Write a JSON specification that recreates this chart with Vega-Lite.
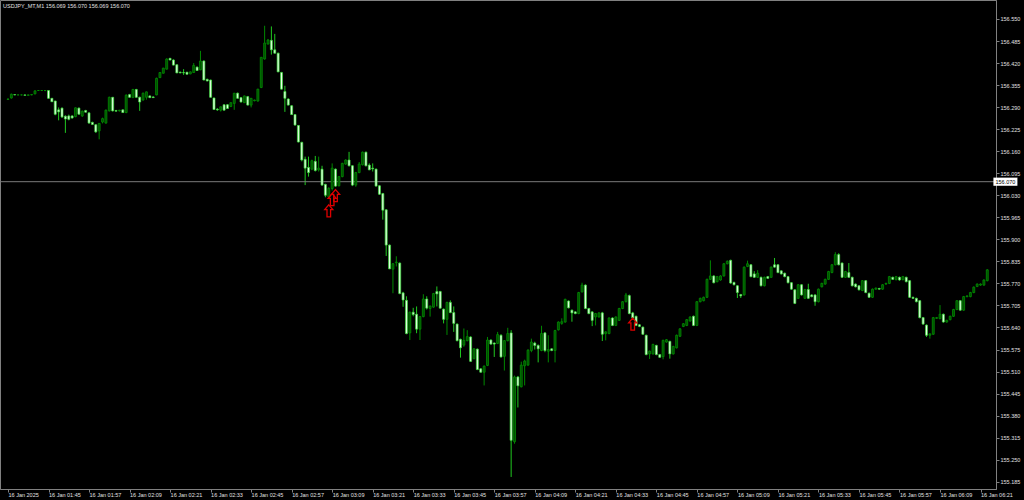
{
"$schema":"https://vega.github.io/schema/vega-lite/v6.json",
"width":996,"height":489,
"autosize":{"type":"none"},
"padding":{"left":0,"top":0,"right":28,"bottom":11},
"background":"#000000",
"title":{"text":"USDJPY_MT,M1  156.069 156.070 156.069 156.070","anchor":"start","frame":"group","orient":"top","offset":-9,"fontSize":5.5,"font":"Liberation Sans","fontWeight":"normal","color":"#e0e0e0","dx":3},
"config":{"view":{"stroke":"#808080","strokeWidth":1},
 "axis":{"title":null,"grid":false,"tickSize":3,"tickColor":"#808080","domainColor":"#808080","labelColor":"#e0e0e0","labelFontSize":5.5,"labelFont":"Liberation Sans","labelOverlap":false,"labelFlush":false,"labelBound":false,"labelLimit":0},
 "axisX":{"labelAlign":"left","labelBaseline":"top","labelPadding":0},
 "axisY":{"labelPadding":1,"labelBaseline":"middle","labelAlign":"left"}},
"data":{"format":{"parse":{"t":"utc:'%H:%M'"}},"values":[
{"t":"01:33","o":156.313,"h":156.315,"l":156.311,"c":156.314},
{"t":"01:34","o":156.317,"h":156.330,"l":156.315,"c":156.328},
{"t":"01:35","o":156.327,"h":156.328,"l":156.325,"c":156.326},
{"t":"01:36","o":156.326,"h":156.327,"l":156.325,"c":156.326},
{"t":"01:37","o":156.326,"h":156.327,"l":156.325,"c":156.326},
{"t":"01:38","o":156.326,"h":156.327,"l":156.324,"c":156.325},
{"t":"01:39","o":156.325,"h":156.327,"l":156.324,"c":156.326},
{"t":"01:40","o":156.326,"h":156.328,"l":156.325,"c":156.327},
{"t":"01:41","o":156.329,"h":156.339,"l":156.328,"c":156.338},
{"t":"01:42","o":156.339,"h":156.340,"l":156.338,"c":156.339},
{"t":"01:43","o":156.339,"h":156.340,"l":156.338,"c":156.339},
{"t":"01:44","o":156.339,"h":156.340,"l":156.337,"c":156.339},
{"t":"01:45","o":156.339,"h":156.340,"l":156.315,"c":156.316},
{"t":"01:46","o":156.316,"h":156.317,"l":156.305,"c":156.306},
{"t":"01:47","o":156.308,"h":156.309,"l":156.266,"c":156.269},
{"t":"01:48","o":156.282,"h":156.289,"l":156.251,"c":156.276},
{"t":"01:49","o":156.287,"h":156.289,"l":156.258,"c":156.261},
{"t":"01:50","o":156.263,"h":156.266,"l":156.214,"c":156.255},
{"t":"01:51","o":156.264,"h":156.268,"l":156.251,"c":156.254},
{"t":"01:52","o":156.264,"h":156.266,"l":156.256,"c":156.258},
{"t":"01:53","o":156.262,"h":156.289,"l":156.260,"c":156.288},
{"t":"01:54","o":156.287,"h":156.289,"l":156.268,"c":156.269},
{"t":"01:55","o":156.264,"h":156.280,"l":156.261,"c":156.278},
{"t":"01:56","o":156.280,"h":156.282,"l":156.274,"c":156.275},
{"t":"01:57","o":156.273,"h":156.275,"l":156.241,"c":156.243},
{"t":"01:58","o":156.245,"h":156.247,"l":156.237,"c":156.239},
{"t":"01:59","o":156.238,"h":156.240,"l":156.214,"c":156.217},
{"t":"02:00","o":156.220,"h":156.243,"l":156.195,"c":156.242},
{"t":"02:01","o":156.246,"h":156.259,"l":156.242,"c":156.256},
{"t":"02:02","o":156.243,"h":156.283,"l":156.241,"c":156.281},
{"t":"02:03","o":156.279,"h":156.321,"l":156.277,"c":156.319},
{"t":"02:04","o":156.319,"h":156.320,"l":156.277,"c":156.279},
{"t":"02:05","o":156.280,"h":156.282,"l":156.277,"c":156.278},
{"t":"02:06","o":156.279,"h":156.282,"l":156.277,"c":156.281},
{"t":"02:07","o":156.282,"h":156.283,"l":156.273,"c":156.274},
{"t":"02:08","o":156.274,"h":156.328,"l":156.272,"c":156.325},
{"t":"02:09","o":156.327,"h":156.329,"l":156.318,"c":156.319},
{"t":"02:10","o":156.318,"h":156.344,"l":156.317,"c":156.342},
{"t":"02:11","o":156.342,"h":156.344,"l":156.318,"c":156.319},
{"t":"02:12","o":156.319,"h":156.321,"l":156.279,"c":156.305},
{"t":"02:13","o":156.311,"h":156.333,"l":156.309,"c":156.331},
{"t":"02:14","o":156.319,"h":156.336,"l":156.312,"c":156.335},
{"t":"02:15","o":156.323,"h":156.325,"l":156.317,"c":156.318},
{"t":"02:16","o":156.320,"h":156.322,"l":156.317,"c":156.318},
{"t":"02:17","o":156.326,"h":156.377,"l":156.325,"c":156.375},
{"t":"02:18","o":156.377,"h":156.393,"l":156.376,"c":156.392},
{"t":"02:19","o":156.390,"h":156.406,"l":156.389,"c":156.405},
{"t":"02:20","o":156.402,"h":156.434,"l":156.401,"c":156.432},
{"t":"02:21","o":156.434,"h":156.435,"l":156.428,"c":156.429},
{"t":"02:22","o":156.429,"h":156.431,"l":156.413,"c":156.414},
{"t":"02:23","o":156.415,"h":156.416,"l":156.390,"c":156.391},
{"t":"02:24","o":156.393,"h":156.395,"l":156.390,"c":156.391},
{"t":"02:25","o":156.392,"h":156.402,"l":156.385,"c":156.391},
{"t":"02:26","o":156.393,"h":156.394,"l":156.386,"c":156.387},
{"t":"02:27","o":156.388,"h":156.395,"l":156.387,"c":156.394},
{"t":"02:28","o":156.392,"h":156.420,"l":156.391,"c":156.413},
{"t":"02:29","o":156.408,"h":156.410,"l":156.397,"c":156.398},
{"t":"02:30","o":156.400,"h":156.456,"l":156.399,"c":156.426},
{"t":"02:31","o":156.426,"h":156.428,"l":156.369,"c":156.370},
{"t":"02:32","o":156.372,"h":156.374,"l":156.366,"c":156.367},
{"t":"02:33","o":156.370,"h":156.371,"l":156.318,"c":156.319},
{"t":"02:34","o":156.317,"h":156.318,"l":156.282,"c":156.283},
{"t":"02:35","o":156.284,"h":156.287,"l":156.279,"c":156.282},
{"t":"02:36","o":156.281,"h":156.291,"l":156.277,"c":156.291},
{"t":"02:37","o":156.297,"h":156.298,"l":156.280,"c":156.281},
{"t":"02:38","o":156.297,"h":156.299,"l":156.285,"c":156.286},
{"t":"02:39","o":156.292,"h":156.304,"l":156.290,"c":156.303},
{"t":"02:40","o":156.301,"h":156.332,"l":156.282,"c":156.331},
{"t":"02:41","o":156.331,"h":156.333,"l":156.315,"c":156.316},
{"t":"02:42","o":156.318,"h":156.320,"l":156.304,"c":156.305},
{"t":"02:43","o":156.303,"h":156.324,"l":156.302,"c":156.323},
{"t":"02:44","o":156.321,"h":156.323,"l":156.295,"c":156.296},
{"t":"02:45","o":156.296,"h":156.317,"l":156.289,"c":156.316},
{"t":"02:46","o":156.309,"h":156.312,"l":156.307,"c":156.311},
{"t":"02:47","o":156.308,"h":156.344,"l":156.306,"c":156.343},
{"t":"02:48","o":156.348,"h":156.438,"l":156.346,"c":156.437},
{"t":"02:49","o":156.432,"h":156.530,"l":156.430,"c":156.479},
{"t":"02:50","o":156.476,"h":156.491,"l":156.475,"c":156.488},
{"t":"02:51","o":156.487,"h":156.528,"l":156.445,"c":156.459},
{"t":"02:52","o":156.459,"h":156.506,"l":156.448,"c":156.449},
{"t":"02:53","o":156.449,"h":156.451,"l":156.393,"c":156.394},
{"t":"02:54","o":156.392,"h":156.394,"l":156.342,"c":156.343},
{"t":"02:55","o":156.336,"h":156.353,"l":156.276,"c":156.316},
{"t":"02:56","o":156.314,"h":156.316,"l":156.295,"c":156.296},
{"t":"02:57","o":156.294,"h":156.296,"l":156.267,"c":156.268},
{"t":"02:58","o":156.268,"h":156.269,"l":156.236,"c":156.237},
{"t":"02:59","o":156.236,"h":156.237,"l":156.186,"c":156.187},
{"t":"03:00","o":156.186,"h":156.188,"l":156.130,"c":156.134},
{"t":"03:01","o":156.136,"h":156.144,"l":156.060,"c":156.110},
{"t":"03:02","o":156.112,"h":156.144,"l":156.085,"c":156.097},
{"t":"03:03","o":156.107,"h":156.135,"l":156.104,"c":156.132},
{"t":"03:04","o":156.130,"h":156.146,"l":156.100,"c":156.103},
{"t":"03:05","o":156.105,"h":156.144,"l":156.100,"c":156.110},
{"t":"03:06","o":156.107,"h":156.117,"l":156.058,"c":156.060},
{"t":"03:07","o":156.062,"h":156.064,"l":156.024,"c":156.030},
{"t":"03:08","o":156.025,"h":156.054,"l":156.019,"c":156.050},
{"t":"03:09","o":156.050,"h":156.124,"l":156.044,"c":156.110},
{"t":"03:10","o":156.107,"h":156.109,"l":156.055,"c":156.057},
{"t":"03:11","o":156.058,"h":156.087,"l":156.056,"c":156.085},
{"t":"03:12","o":156.085,"h":156.126,"l":156.083,"c":156.124},
{"t":"03:13","o":156.122,"h":156.136,"l":156.120,"c":156.134},
{"t":"03:14","o":156.134,"h":156.158,"l":156.115,"c":156.117},
{"t":"03:15","o":156.117,"h":156.119,"l":156.057,"c":156.060},
{"t":"03:16","o":156.060,"h":156.099,"l":156.055,"c":156.097},
{"t":"03:17","o":156.097,"h":156.128,"l":156.095,"c":156.122},
{"t":"03:18","o":156.120,"h":156.159,"l":156.118,"c":156.157},
{"t":"03:19","o":156.157,"h":156.159,"l":156.115,"c":156.117},
{"t":"03:20","o":156.119,"h":156.124,"l":156.104,"c":156.105},
{"t":"03:21","o":156.110,"h":156.124,"l":156.100,"c":156.108},
{"t":"03:22","o":156.107,"h":156.109,"l":156.056,"c":156.057},
{"t":"03:23","o":156.058,"h":156.060,"l":156.031,"c":156.033},
{"t":"03:24","o":156.035,"h":156.037,"l":155.958,"c":155.986},
{"t":"03:25","o":155.987,"h":155.989,"l":155.851,"c":155.883},
{"t":"03:26","o":155.883,"h":155.885,"l":155.812,"c":155.813},
{"t":"03:27","o":155.812,"h":155.830,"l":155.741,"c":155.828},
{"t":"03:28","o":155.831,"h":155.850,"l":155.820,"c":155.833},
{"t":"03:29","o":155.830,"h":155.832,"l":155.738,"c":155.740},
{"t":"03:30","o":155.742,"h":155.745,"l":155.701,"c":155.721},
{"t":"03:31","o":155.720,"h":155.732,"l":155.620,"c":155.622},
{"t":"03:32","o":155.624,"h":155.687,"l":155.603,"c":155.685},
{"t":"03:33","o":155.685,"h":155.698,"l":155.673,"c":155.678},
{"t":"03:34","o":155.679,"h":155.702,"l":155.623,"c":155.635},
{"t":"03:35","o":155.635,"h":155.674,"l":155.603,"c":155.672},
{"t":"03:36","o":155.672,"h":155.738,"l":155.670,"c":155.724},
{"t":"03:37","o":155.724,"h":155.732,"l":155.693,"c":155.697},
{"t":"03:38","o":155.696,"h":155.705,"l":155.672,"c":155.703},
{"t":"03:39","o":155.700,"h":155.742,"l":155.698,"c":155.740},
{"t":"03:40","o":155.746,"h":155.761,"l":155.702,"c":155.739},
{"t":"03:41","o":155.746,"h":155.748,"l":155.695,"c":155.697},
{"t":"03:42","o":155.694,"h":155.696,"l":155.652,"c":155.664},
{"t":"03:43","o":155.664,"h":155.716,"l":155.618,"c":155.714},
{"t":"03:44","o":155.714,"h":155.720,"l":155.682,"c":155.684},
{"t":"03:45","o":155.684,"h":155.702,"l":155.627,"c":155.652},
{"t":"03:46","o":155.650,"h":155.652,"l":155.599,"c":155.601},
{"t":"03:47","o":155.605,"h":155.607,"l":155.551,"c":155.580},
{"t":"03:48","o":155.588,"h":155.637,"l":155.583,"c":155.602},
{"t":"03:49","o":155.601,"h":155.632,"l":155.599,"c":155.613},
{"t":"03:50","o":155.612,"h":155.614,"l":155.538,"c":155.540},
{"t":"03:51","o":155.548,"h":155.579,"l":155.546,"c":155.577},
{"t":"03:52","o":155.576,"h":155.578,"l":155.514,"c":155.516},
{"t":"03:53","o":155.518,"h":155.520,"l":155.506,"c":155.508},
{"t":"03:54","o":155.508,"h":155.528,"l":155.469,"c":155.526},
{"t":"03:55","o":155.528,"h":155.612,"l":155.526,"c":155.603},
{"t":"03:56","o":155.603,"h":155.605,"l":155.589,"c":155.591},
{"t":"03:57","o":155.594,"h":155.596,"l":155.553,"c":155.591},
{"t":"03:58","o":155.593,"h":155.627,"l":155.591,"c":155.619},
{"t":"03:59","o":155.617,"h":155.620,"l":155.551,"c":155.553},
{"t":"04:00","o":155.555,"h":155.603,"l":155.513,"c":155.601},
{"t":"04:01","o":155.601,"h":155.639,"l":155.599,"c":155.622},
{"t":"04:02","o":155.624,"h":155.632,"l":155.199,"c":155.307},
{"t":"04:03","o":155.303,"h":155.498,"l":155.297,"c":155.494},
{"t":"04:04","o":155.494,"h":155.497,"l":155.404,"c":155.468},
{"t":"04:05","o":155.465,"h":155.539,"l":155.463,"c":155.529},
{"t":"04:06","o":155.527,"h":155.545,"l":155.469,"c":155.541},
{"t":"04:07","o":155.529,"h":155.576,"l":155.527,"c":155.573},
{"t":"04:08","o":155.572,"h":155.607,"l":155.567,"c":155.597},
{"t":"04:09","o":155.594,"h":155.598,"l":155.575,"c":155.587},
{"t":"04:10","o":155.587,"h":155.590,"l":155.537,"c":155.577},
{"t":"04:11","o":155.572,"h":155.645,"l":155.570,"c":155.622},
{"t":"04:12","o":155.624,"h":155.626,"l":155.567,"c":155.572},
{"t":"04:13","o":155.570,"h":155.617,"l":155.537,"c":155.575},
{"t":"04:14","o":155.577,"h":155.579,"l":155.570,"c":155.572},
{"t":"04:15","o":155.572,"h":155.633,"l":155.537,"c":155.631},
{"t":"04:16","o":155.633,"h":155.658,"l":155.631,"c":155.656},
{"t":"04:17","o":155.652,"h":155.667,"l":155.648,"c":155.657},
{"t":"04:18","o":155.656,"h":155.725,"l":155.654,"c":155.723},
{"t":"04:19","o":155.718,"h":155.720,"l":155.696,"c":155.698},
{"t":"04:20","o":155.691,"h":155.693,"l":155.657,"c":155.683},
{"t":"04:21","o":155.686,"h":155.688,"l":155.679,"c":155.681},
{"t":"04:22","o":155.681,"h":155.745,"l":155.679,"c":155.743},
{"t":"04:23","o":155.745,"h":155.772,"l":155.743,"c":155.765},
{"t":"04:24","o":155.765,"h":155.767,"l":155.694,"c":155.696},
{"t":"04:25","o":155.696,"h":155.698,"l":155.679,"c":155.681},
{"t":"04:26","o":155.686,"h":155.688,"l":155.644,"c":155.661},
{"t":"04:27","o":155.671,"h":155.683,"l":155.646,"c":155.681},
{"t":"04:28","o":155.671,"h":155.685,"l":155.669,"c":155.683},
{"t":"04:29","o":155.683,"h":155.686,"l":155.600,"c":155.620},
{"t":"04:30","o":155.622,"h":155.629,"l":155.602,"c":155.627},
{"t":"04:31","o":155.622,"h":155.670,"l":155.620,"c":155.668},
{"t":"04:32","o":155.668,"h":155.670,"l":155.644,"c":155.646},
{"t":"04:33","o":155.646,"h":155.673,"l":155.644,"c":155.671},
{"t":"04:34","o":155.661,"h":155.698,"l":155.659,"c":155.696},
{"t":"04:35","o":155.696,"h":155.718,"l":155.694,"c":155.716},
{"t":"04:36","o":155.716,"h":155.742,"l":155.714,"c":155.736},
{"t":"04:37","o":155.734,"h":155.737,"l":155.679,"c":155.681},
{"t":"04:38","o":155.683,"h":155.686,"l":155.666,"c":155.668},
{"t":"04:39","o":155.673,"h":155.675,"l":155.644,"c":155.646},
{"t":"04:40","o":155.648,"h":155.650,"l":155.641,"c":155.643},
{"t":"04:41","o":155.641,"h":155.643,"l":155.618,"c":155.620},
{"t":"04:42","o":155.617,"h":155.619,"l":155.558,"c":155.560},
{"t":"04:43","o":155.562,"h":155.572,"l":155.547,"c":155.570},
{"t":"04:44","o":155.562,"h":155.592,"l":155.560,"c":155.590},
{"t":"04:45","o":155.587,"h":155.589,"l":155.558,"c":155.560},
{"t":"04:46","o":155.560,"h":155.562,"l":155.550,"c":155.552},
{"t":"04:47","o":155.554,"h":155.604,"l":155.546,"c":155.602},
{"t":"04:48","o":155.597,"h":155.606,"l":155.595,"c":155.604},
{"t":"04:49","o":155.599,"h":155.601,"l":155.548,"c":155.562},
{"t":"04:50","o":155.562,"h":155.586,"l":155.560,"c":155.584},
{"t":"04:51","o":155.580,"h":155.619,"l":155.578,"c":155.617},
{"t":"04:52","o":155.614,"h":155.638,"l":155.612,"c":155.636},
{"t":"04:53","o":155.643,"h":155.653,"l":155.641,"c":155.651},
{"t":"04:54","o":155.646,"h":155.665,"l":155.644,"c":155.663},
{"t":"04:55","o":155.659,"h":155.673,"l":155.657,"c":155.671},
{"t":"04:56","o":155.673,"h":155.675,"l":155.644,"c":155.646},
{"t":"04:57","o":155.646,"h":155.718,"l":155.644,"c":155.716},
{"t":"04:58","o":155.716,"h":155.728,"l":155.714,"c":155.726},
{"t":"04:59","o":155.719,"h":155.731,"l":155.717,"c":155.729},
{"t":"05:00","o":155.729,"h":155.784,"l":155.727,"c":155.782},
{"t":"05:01","o":155.782,"h":155.838,"l":155.780,"c":155.792},
{"t":"05:02","o":155.792,"h":155.794,"l":155.770,"c":155.772},
{"t":"05:03","o":155.775,"h":155.792,"l":155.773,"c":155.790},
{"t":"05:04","o":155.780,"h":155.794,"l":155.778,"c":155.792},
{"t":"05:05","o":155.792,"h":155.830,"l":155.790,"c":155.828},
{"t":"05:06","o":155.828,"h":155.838,"l":155.826,"c":155.835},
{"t":"05:07","o":155.838,"h":155.840,"l":155.769,"c":155.771},
{"t":"05:08","o":155.773,"h":155.775,"l":155.764,"c":155.766},
{"t":"05:09","o":155.763,"h":155.765,"l":155.727,"c":155.743},
{"t":"05:10","o":155.737,"h":155.739,"l":155.727,"c":155.733},
{"t":"05:11","o":155.736,"h":155.820,"l":155.734,"c":155.818},
{"t":"05:12","o":155.820,"h":155.837,"l":155.818,"c":155.828},
{"t":"05:13","o":155.825,"h":155.827,"l":155.788,"c":155.790},
{"t":"05:14","o":155.798,"h":155.806,"l":155.786,"c":155.788},
{"t":"05:15","o":155.788,"h":155.809,"l":155.786,"c":155.800},
{"t":"05:16","o":155.788,"h":155.790,"l":155.761,"c":155.763},
{"t":"05:17","o":155.763,"h":155.790,"l":155.761,"c":155.788},
{"t":"05:18","o":155.790,"h":155.792,"l":155.783,"c":155.785},
{"t":"05:19","o":155.788,"h":155.820,"l":155.786,"c":155.818},
{"t":"05:20","o":155.825,"h":155.845,"l":155.816,"c":155.818},
{"t":"05:21","o":155.825,"h":155.827,"l":155.800,"c":155.802},
{"t":"05:22","o":155.807,"h":155.809,"l":155.796,"c":155.798},
{"t":"05:23","o":155.800,"h":155.802,"l":155.788,"c":155.790},
{"t":"05:24","o":155.790,"h":155.792,"l":155.770,"c":155.772},
{"t":"05:25","o":155.772,"h":155.774,"l":155.751,"c":155.753},
{"t":"05:26","o":155.751,"h":155.753,"l":155.709,"c":155.711},
{"t":"05:27","o":155.726,"h":155.768,"l":155.724,"c":155.766},
{"t":"05:28","o":155.766,"h":155.768,"l":155.734,"c":155.736},
{"t":"05:29","o":155.726,"h":155.754,"l":155.724,"c":155.752},
{"t":"05:30","o":155.752,"h":155.769,"l":155.724,"c":155.726},
{"t":"05:31","o":155.736,"h":155.738,"l":155.729,"c":155.731},
{"t":"05:32","o":155.736,"h":155.738,"l":155.704,"c":155.716},
{"t":"05:33","o":155.716,"h":155.755,"l":155.714,"c":155.753},
{"t":"05:34","o":155.760,"h":155.772,"l":155.758,"c":155.770},
{"t":"05:35","o":155.768,"h":155.784,"l":155.766,"c":155.782},
{"t":"05:36","o":155.782,"h":155.807,"l":155.780,"c":155.805},
{"t":"05:37","o":155.802,"h":155.827,"l":155.800,"c":155.825},
{"t":"05:38","o":155.825,"h":155.862,"l":155.823,"c":155.855},
{"t":"05:39","o":155.855,"h":155.859,"l":155.823,"c":155.825},
{"t":"05:40","o":155.830,"h":155.832,"l":155.786,"c":155.788},
{"t":"05:41","o":155.788,"h":155.807,"l":155.786,"c":155.805},
{"t":"05:42","o":155.802,"h":155.830,"l":155.786,"c":155.788},
{"t":"05:43","o":155.788,"h":155.790,"l":155.761,"c":155.763},
{"t":"05:44","o":155.768,"h":155.770,"l":155.758,"c":155.760},
{"t":"05:45","o":155.763,"h":155.765,"l":155.749,"c":155.751},
{"t":"05:46","o":155.749,"h":155.780,"l":155.747,"c":155.778},
{"t":"05:47","o":155.778,"h":155.780,"l":155.741,"c":155.743},
{"t":"05:48","o":155.741,"h":155.743,"l":155.727,"c":155.729},
{"t":"05:49","o":155.729,"h":155.755,"l":155.727,"c":155.753},
{"t":"05:50","o":155.753,"h":155.758,"l":155.751,"c":155.756},
{"t":"05:51","o":155.755,"h":155.757,"l":155.751,"c":155.753},
{"t":"05:52","o":155.753,"h":155.768,"l":155.751,"c":155.766},
{"t":"05:53","o":155.768,"h":155.772,"l":155.766,"c":155.770},
{"t":"05:54","o":155.770,"h":155.792,"l":155.768,"c":155.790},
{"t":"05:55","o":155.788,"h":155.790,"l":155.780,"c":155.782},
{"t":"05:56","o":155.781,"h":155.792,"l":155.779,"c":155.790},
{"t":"05:57","o":155.788,"h":155.790,"l":155.778,"c":155.780},
{"t":"05:58","o":155.781,"h":155.792,"l":155.779,"c":155.790},
{"t":"05:59","o":155.788,"h":155.790,"l":155.773,"c":155.775},
{"t":"06:00","o":155.778,"h":155.780,"l":155.727,"c":155.729},
{"t":"06:01","o":155.729,"h":155.731,"l":155.724,"c":155.726},
{"t":"06:02","o":155.726,"h":155.728,"l":155.714,"c":155.716},
{"t":"06:03","o":155.719,"h":155.721,"l":155.667,"c":155.669},
{"t":"06:04","o":155.669,"h":155.671,"l":155.648,"c":155.650},
{"t":"06:05","o":155.647,"h":155.649,"l":155.612,"c":155.617},
{"t":"06:06","o":155.617,"h":155.623,"l":155.607,"c":155.621},
{"t":"06:07","o":155.620,"h":155.671,"l":155.618,"c":155.669},
{"t":"06:08","o":155.667,"h":155.671,"l":155.665,"c":155.669},
{"t":"06:09","o":155.666,"h":155.706,"l":155.664,"c":155.679},
{"t":"06:10","o":155.679,"h":155.681,"l":155.654,"c":155.656},
{"t":"06:11","o":155.656,"h":155.663,"l":155.654,"c":155.661},
{"t":"06:12","o":155.663,"h":155.675,"l":155.661,"c":155.673},
{"t":"06:13","o":155.673,"h":155.695,"l":155.671,"c":155.693},
{"t":"06:14","o":155.693,"h":155.721,"l":155.691,"c":155.719},
{"t":"06:15","o":155.719,"h":155.721,"l":155.689,"c":155.691},
{"t":"06:16","o":155.691,"h":155.733,"l":155.689,"c":155.731},
{"t":"06:17","o":155.731,"h":155.735,"l":155.729,"c":155.733},
{"t":"06:18","o":155.731,"h":155.745,"l":155.729,"c":155.743},
{"t":"06:19","o":155.743,"h":155.761,"l":155.741,"c":155.759},
{"t":"06:20","o":155.761,"h":155.770,"l":155.759,"c":155.768},
{"t":"06:21","o":155.765,"h":155.770,"l":155.763,"c":155.768},
{"t":"06:22","o":155.765,"h":155.782,"l":155.763,"c":155.780},
{"t":"06:23","o":155.778,"h":155.812,"l":155.776,"c":155.810}
]},
"layer":[
{"mark":{"type":"rule","strokeWidth":1},
 "encoding":{
  "x":{"field":"t","type":"temporal","title":null,"scale":{"type":"utc","nice":false,"domain":[{"year":1900,"month":1,"date":1,"hours":1,"minutes":32,"seconds":7,"utc":true},{"year":1900,"month":1,"date":1,"hours":6,"minutes":24,"seconds":6,"utc":true}]},
   "axis":{"labelOverlap":false,"tickCount":100,
    "labelExpr":"utcFormat(datum.value, '%H:%M') == '01:33' ? '16 Jan 2025' : '16 Jan ' + utcFormat(datum.value, '%H:%M')",
    "values":[
     {"year":1900,"month":1,"date":1,"hours":1,"minutes":33,"utc":true},
     {"year":1900,"month":1,"date":1,"hours":1,"minutes":45,"utc":true},
     {"year":1900,"month":1,"date":1,"hours":1,"minutes":57,"utc":true},
     {"year":1900,"month":1,"date":1,"hours":2,"minutes":9,"utc":true},
     {"year":1900,"month":1,"date":1,"hours":2,"minutes":21,"utc":true},
     {"year":1900,"month":1,"date":1,"hours":2,"minutes":33,"utc":true},
     {"year":1900,"month":1,"date":1,"hours":2,"minutes":45,"utc":true},
     {"year":1900,"month":1,"date":1,"hours":2,"minutes":57,"utc":true},
     {"year":1900,"month":1,"date":1,"hours":3,"minutes":9,"utc":true},
     {"year":1900,"month":1,"date":1,"hours":3,"minutes":21,"utc":true},
     {"year":1900,"month":1,"date":1,"hours":3,"minutes":33,"utc":true},
     {"year":1900,"month":1,"date":1,"hours":3,"minutes":45,"utc":true},
     {"year":1900,"month":1,"date":1,"hours":3,"minutes":57,"utc":true},
     {"year":1900,"month":1,"date":1,"hours":4,"minutes":9,"utc":true},
     {"year":1900,"month":1,"date":1,"hours":4,"minutes":21,"utc":true},
     {"year":1900,"month":1,"date":1,"hours":4,"minutes":33,"utc":true},
     {"year":1900,"month":1,"date":1,"hours":4,"minutes":45,"utc":true},
     {"year":1900,"month":1,"date":1,"hours":4,"minutes":57,"utc":true},
     {"year":1900,"month":1,"date":1,"hours":5,"minutes":9,"utc":true},
     {"year":1900,"month":1,"date":1,"hours":5,"minutes":21,"utc":true},
     {"year":1900,"month":1,"date":1,"hours":5,"minutes":33,"utc":true},
     {"year":1900,"month":1,"date":1,"hours":5,"minutes":45,"utc":true},
     {"year":1900,"month":1,"date":1,"hours":5,"minutes":57,"utc":true},
     {"year":1900,"month":1,"date":1,"hours":6,"minutes":9,"utc":true},
     {"year":1900,"month":1,"date":1,"hours":6,"minutes":21,"utc":true}]}},
  "y":{"field":"l","type":"quantitative","title":null,"scale":{"domain":[155.1635,156.606],"zero":false,"nice":false},
   "axis":{"orient":"right","format":".3f","labelOverlap":false,"tickCount":100,
    "values":[156.55,156.485,156.42,156.355,156.29,156.225,156.16,156.095,156.03,155.965,155.9,155.835,155.77,155.705,155.64,155.575,155.51,155.445,155.38,155.315,155.25,155.185]}},
  "y2":{"field":"h"},
  "stroke":{"condition":{"test":"datum.c >= datum.o","value":"#008800"},"value":"#20c820"}}},
{"data":{"values":[{"p":156.07}]},
 "mark":{"type":"rule","color":"#7a7a7a","strokeWidth":1},
 "encoding":{"y":{"field":"p","type":"quantitative","title":null,"scale":{"domain":[155.1635,156.606],"zero":false,"nice":false}}}},
{"mark":{"type":"bar","size":2,"strokeWidth":0.7},
 "encoding":{
  "x":{"field":"t","type":"temporal","title":null,"scale":{"type":"utc","nice":false,"domain":[{"year":1900,"month":1,"date":1,"hours":1,"minutes":32,"seconds":7,"utc":true},{"year":1900,"month":1,"date":1,"hours":6,"minutes":24,"seconds":6,"utc":true}]}},
  "y":{"field":"o","type":"quantitative","title":null,"scale":{"domain":[155.1635,156.606],"zero":false,"nice":false}},
  "y2":{"field":"c"},
  "fill":{"condition":{"test":"datum.c >= datum.o","value":"#005000"},"value":"#e4ffe4"},
  "stroke":{"condition":{"test":"datum.c >= datum.o","value":"#009400"},"value":"#38d838"}}},
{"data":{"format":{"parse":{"t":"utc:'%H:%M'"}},"values":[{"t":"03:08","p":155.984},{"t":"03:09","p":156.017},{"t":"03:10","p":156.029},{"t":"04:38","p":155.650}]},
 "mark":{"type":"point","shape":"M0,-1L0.68,-0.2L0.3,-0.2L0.3,1L-0.3,1L-0.3,-0.2L-0.68,-0.2Z","filled":false,"stroke":"#dd0000","strokeWidth":1.3,"size":144,"opacity":1},
 "encoding":{
  "x":{"field":"t","type":"temporal","title":null,"scale":{"type":"utc","nice":false,"domain":[{"year":1900,"month":1,"date":1,"hours":1,"minutes":32,"seconds":7,"utc":true},{"year":1900,"month":1,"date":1,"hours":6,"minutes":24,"seconds":6,"utc":true}]}},
  "y":{"field":"p","type":"quantitative","title":null,"scale":{"domain":[155.1635,156.606],"zero":false,"nice":false}}}},
{"data":{"values":[{"p":156.07,"label":"156.070"}]},
 "mark":{"type":"point","shape":"M-1,-0.34L1,-0.34L1,0.34L-1,0.34Z","filled":true,"fill":"#ffffff","strokeWidth":0,"size":576,"opacity":1},
 "encoding":{
  "x":{"datum":{"year":1900,"month":1,"date":1,"hours":6,"minutes":28,"seconds":22,"utc":true},"type":"temporal","title":null,"scale":{"type":"utc","nice":false,"domain":[{"year":1900,"month":1,"date":1,"hours":1,"minutes":32,"seconds":7,"utc":true},{"year":1900,"month":1,"date":1,"hours":6,"minutes":24,"seconds":6,"utc":true}]}},
  "y":{"field":"p","type":"quantitative","title":null,"scale":{"domain":[155.1635,156.606],"zero":false,"nice":false}}}},
{"data":{"values":[{"p":156.07,"label":"156.070"}]},
 "mark":{"type":"text","fontSize":5.5,"font":"Liberation Sans","color":"#000000","align":"center","baseline":"middle"},
 "encoding":{
  "x":{"datum":{"year":1900,"month":1,"date":1,"hours":6,"minutes":28,"seconds":22,"utc":true},"type":"temporal","title":null,"scale":{"type":"utc","nice":false,"domain":[{"year":1900,"month":1,"date":1,"hours":1,"minutes":32,"seconds":7,"utc":true},{"year":1900,"month":1,"date":1,"hours":6,"minutes":24,"seconds":6,"utc":true}]}},
  "y":{"field":"p","type":"quantitative","title":null,"scale":{"domain":[155.1635,156.606],"zero":false,"nice":false}},
  "text":{"field":"label"}}}
]
}
